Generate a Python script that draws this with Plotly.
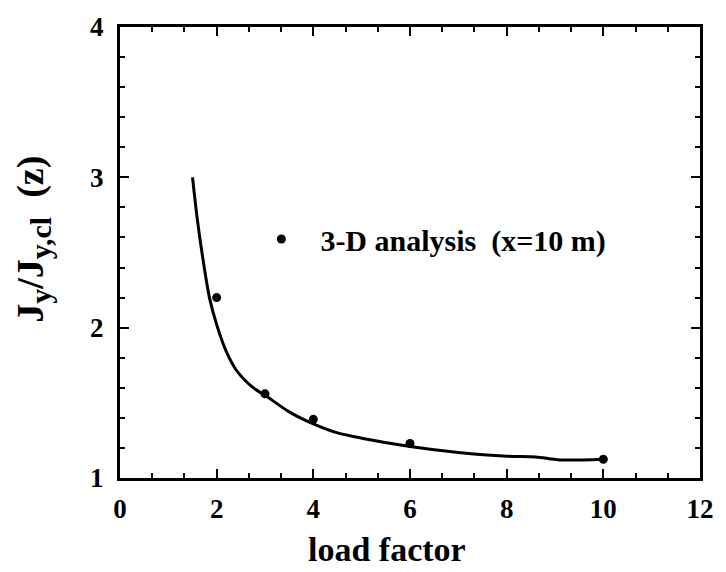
import plotly.graph_objects as go

# 3-D analysis points (x = 10 m)
load_factor = [2, 3, 4, 6, 10]
ratio = [2.2, 1.56, 1.39, 1.23, 1.125]

# fitted curve
fit_x = [1.5, 1.6, 1.7, 1.85, 2.0, 2.2, 2.4, 2.6, 2.8, 3.0, 3.5, 4.0, 4.5, 5.0, 6.0, 7.0, 8.0, 8.6, 9.1, 10.0]
fit_y = [3.0, 2.72, 2.49, 2.2, 2.02, 1.84, 1.72, 1.645, 1.59, 1.55, 1.44, 1.36, 1.30, 1.265, 1.21, 1.17, 1.145, 1.14, 1.12, 1.125]

x_ticks = [0, 2, 4, 6, 8, 10, 12]
y_ticks = [1, 2, 3, 4]

FONT = "Liberation Serif"

fig = go.Figure()
fig.add_trace(go.Scatter(
    x=fit_x, y=fit_y, mode="lines",
    line=dict(color="black", width=3, shape="spline", smoothing=0.8),
    showlegend=False, hoverinfo="skip",
))
fig.add_trace(go.Scatter(
    x=load_factor, y=ratio, mode="markers",
    marker=dict(color="black", size=9),
    name="3-D analysis\u00a0\u00a0(x=10 m)",
))

axis_common = dict(
    showline=True, linecolor="black", linewidth=3, mirror="ticks",
    ticks="inside", ticklen=9, tickwidth=2, tickcolor="black",
    showgrid=False, zeroline=False,
    tickfont=dict(family=FONT, size=27, color="black", weight="bold"),
)

fig.update_xaxes(
    range=[0, 12], tickvals=x_ticks, ticktext=[str(v) for v in x_ticks],
    minor=dict(ticks="inside", ticklen=5, tickwidth=2, tickcolor="black", dtick=2/3, tick0=0),
    ticklabelstandoff=5,
    **axis_common,
)
fig.update_yaxes(
    range=[1, 4], tickvals=y_ticks, ticktext=[str(v) for v in y_ticks],
    minor=dict(ticks="inside", ticklen=5, tickwidth=2, tickcolor="black", dtick=0.2, tick0=1),
    ticklabelstandoff=8,
    **axis_common,
)

title_font = dict(family=FONT, color="black", weight="bold")
fig.add_annotation(
    text="load factor", xref="paper", yref="paper",
    x=0.461, y=-0.158, xanchor="center", yanchor="middle", showarrow=False,
    font=dict(size=34, **title_font),
)
fig.add_annotation(
    text=("J<sub><span style='font-size:30px'>y</span></sub>/"
          "J<sub><span style='font-size:30px'>y,cl</span></sub>\u00a0\u00a0(z)"),
    xref="paper", yref="paper",
    x=-0.150, y=0.528, xanchor="center", yanchor="middle", textangle=-90, showarrow=False,
    font=dict(size=38, **title_font),
)

fig.update_layout(
    width=726, height=572,
    margin=dict(l=120, r=18, t=20, b=94),
    paper_bgcolor="white", plot_bgcolor="white",
    legend=dict(
        x=0.211, y=0.53, xanchor="left", yanchor="middle",
        bgcolor="rgba(0,0,0,0)", itemwidth=68,
        font=dict(family=FONT, size=30, color="black", weight="bold"),
    ),
)

fig.write_html(
    "out.html",
    config={"displayModeBar": False},
    post_script="document.body.style.margin='0px';document.body.style.overflow='hidden';",
)
